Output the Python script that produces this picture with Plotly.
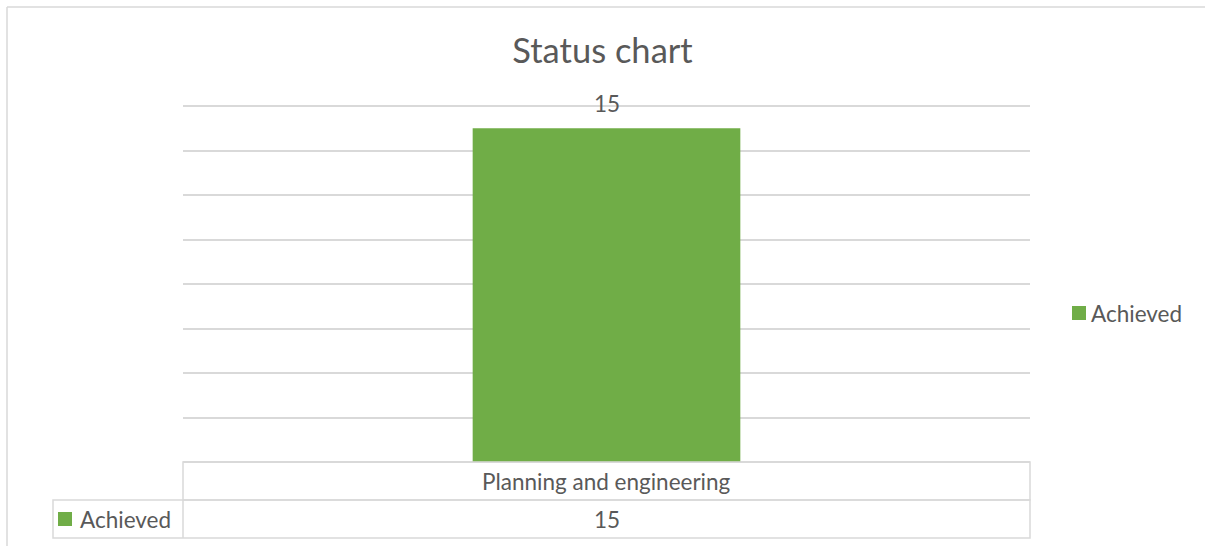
import plotly.graph_objects as go

# ---- data ----
categories = ["Planning and engineering"]
series_name = "Achieved"
achieved = [15]
title_text = "Status chart"
y_max_tick = 16
y_step = 2

BAR_COLOR = "#70ad47"
TEXT_COLOR = "#595959"
GRID_COLOR = "#d9d9d9"
FONT = "Lato"
FS = 22.5

W, H = 1205, 546
L, R, T, B = 183, 1030, 104, 462  # plot area in px
TOP_GRID_PX = 106  # pixel row of the top gridline

px_per_unit = (B - TOP_GRID_PX) / y_max_tick
y_range_top = (B - T) / px_per_unit


def px_x(px):
    return (px - L) / (R - L)


def px_y(py):
    return (B - py) / (B - T)


fig = go.Figure()
fig.add_trace(go.Bar(
    x=categories, y=achieved, name=series_name,
    marker=dict(color=BAR_COLOR, line=dict(width=0)),
    width=0.316,
    showlegend=False,
))

# data labels above bars
for c, v in zip(categories, achieved):
    fig.add_annotation(x=c, y=v, text=str(v), showarrow=False, yshift=25,
                       font=dict(family=FONT, size=FS, color=TEXT_COLOR))

shapes = []
line = dict(color=GRID_COLOR, width=1.5)
# outer chart border (top + left)
shapes.append(dict(type="line", xref="paper", yref="paper",
                   x0=px_x(7), x1=px_x(1210), y0=px_y(7), y1=px_y(7), line=line))
shapes.append(dict(type="line", xref="paper", yref="paper",
                   x0=px_x(7), x1=px_x(7), y0=px_y(7), y1=px_y(550), line=line))
# data table
row1_top, row1_bot, row2_bot = 462, 500, 538
shapes.append(dict(type="rect", xref="paper", yref="paper",
                   x0=px_x(L), x1=px_x(R), y0=px_y(row1_top), y1=px_y(row1_bot), line=line))
shapes.append(dict(type="rect", xref="paper", yref="paper",
                   x0=px_x(53), x1=px_x(R), y0=px_y(row1_bot), y1=px_y(row2_bot), line=line))
shapes.append(dict(type="line", xref="paper", yref="paper",
                   x0=px_x(L), x1=px_x(L), y0=px_y(row1_bot), y1=px_y(row2_bot), line=line))
# legend key in table
shapes.append(dict(type="rect", xref="paper", yref="paper",
                   x0=px_x(58), x1=px_x(72), y0=px_y(512), y1=px_y(526),
                   fillcolor=BAR_COLOR, line=dict(width=0)))
# right-side legend key
shapes.append(dict(type="rect", xref="paper", yref="paper",
                   x0=px_x(1072), x1=px_x(1086), y0=px_y(306), y1=px_y(320),
                   fillcolor=BAR_COLOR, line=dict(width=0)))
fig.update_layout(shapes=shapes)

ncat = len(categories)
for i, (c, v) in enumerate(zip(categories, achieved)):
    cx = (i + 0.5) / ncat
    fig.add_annotation(xref="paper", yref="paper", x=cx, y=px_y((row1_top + row1_bot) / 2),
                       text=c, showarrow=False, xanchor="center", yanchor="middle",
                       font=dict(family=FONT, size=FS, color=TEXT_COLOR))
    fig.add_annotation(xref="paper", yref="paper", x=cx, y=px_y((row1_bot + row2_bot) / 2),
                       text=str(v), showarrow=False, xanchor="center", yanchor="middle",
                       font=dict(family=FONT, size=FS, color=TEXT_COLOR))
fig.add_annotation(xref="paper", yref="paper", x=px_x(78), y=px_y((row1_bot + row2_bot) / 2),
                   text=series_name, showarrow=False, xanchor="left", yanchor="middle",
                   font=dict(family=FONT, size=FS, color=TEXT_COLOR))
# right-side legend text
fig.add_annotation(xref="paper", yref="paper", x=px_x(1089), y=px_y(313),
                   text=series_name, showarrow=False, xanchor="left", yanchor="middle",
                   font=dict(family=FONT, size=FS, color=TEXT_COLOR))

fig.update_layout(
    width=W, height=H,
    margin=dict(l=L, r=W - R, t=T, b=H - B),
    paper_bgcolor="white", plot_bgcolor="white",
    title=dict(text=title_text, x=0.5, xanchor="center", y=1 - 51 / H, yanchor="middle",
               font=dict(family=FONT, size=34.5, color=TEXT_COLOR)),
    font=dict(family=FONT, color=TEXT_COLOR),
    xaxis=dict(showticklabels=False, showgrid=False, zeroline=False, showline=False,
               ticks=""),
    yaxis=dict(range=[0, y_range_top], tick0=0, dtick=y_step, showticklabels=False,
               showgrid=True, gridcolor=GRID_COLOR, gridwidth=1.5, zeroline=True,
               zerolinecolor=GRID_COLOR, zerolinewidth=1.5, showline=False, ticks=""),
    showlegend=False,
)

fig.write_html("out.html", config={"displayModeBar": False},
               post_script="document.body.style.margin='0';")
